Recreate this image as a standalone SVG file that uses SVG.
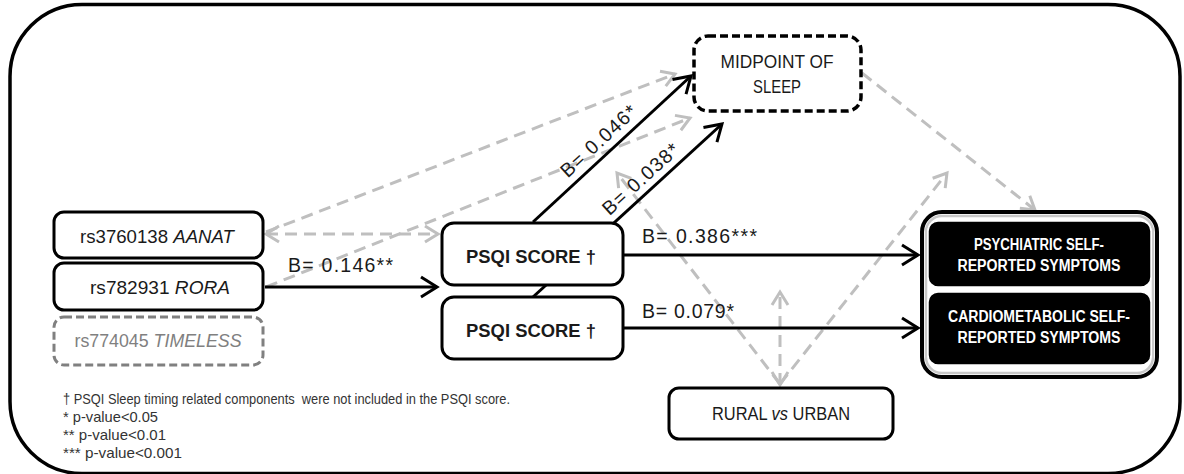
<svg xmlns="http://www.w3.org/2000/svg" width="1184" height="474" viewBox="0 0 1184 474">
<defs>
<style>
text{font-family:"Liberation Sans",Arial,sans-serif;fill:#1a1a1a}
.box{fill:#fff;stroke:#000;stroke-width:3}
.blk{stroke:#000;stroke-width:3;fill:none}
.gry{stroke:#bfbfbf;stroke-width:3;fill:none;stroke-dasharray:12 7}
.lbl{font-size:19.5px}
.node{font-size:18.5px}
.out{font-size:16px;font-weight:bold;fill:#fff}
.foot{font-size:15px;fill:#333}
</style>
<marker id="ab" markerUnits="userSpaceOnUse" markerWidth="40" markerHeight="40" viewBox="-20 -20 40 40" refX="0" refY="0" orient="auto-start-reverse">
<path d="M-16,-10 L0,0 L-16,10" fill="none" stroke="#000" stroke-width="3"/>
</marker>
<marker id="ag" markerUnits="userSpaceOnUse" markerWidth="40" markerHeight="40" viewBox="-20 -20 40 40" refX="0" refY="0" orient="auto-start-reverse">
<path d="M-13,-8 L0,0 L-13,8" fill="none" stroke="#bfbfbf" stroke-width="3"/>
</marker>
</defs>
<rect width="1184" height="474" fill="#fff"/>
<rect id="frame" x="10" y="4.5" width="1170" height="469" rx="72" fill="#fff" stroke="#000" stroke-width="3.5"/>

<g id="connectors">
<line class="gry" x1="266" y1="232" x2="675" y2="74" marker-end="url(#ag)"/>
<line class="gry" x1="266" y1="234" x2="438" y2="234" marker-start="url(#ag)" marker-end="url(#ag)"/>
<line class="gry" x1="266" y1="287" x2="690" y2="118" marker-end="url(#ag)"/>
<line class="gry" x1="862" y1="73" x2="1035" y2="210" marker-end="url(#ag)"/>
<line class="gry" x1="780" y1="384" x2="617" y2="173" marker-end="url(#ag)"/>
<line class="gry" x1="780" y1="384" x2="947" y2="173" marker-end="url(#ag)"/>
<line class="gry" x1="780" y1="385" x2="780" y2="292" marker-start="url(#ag)" marker-end="url(#ag)"/>
<line class="blk" x1="265" y1="287" x2="437" y2="287" marker-end="url(#ab)"/>
<line class="blk" x1="533" y1="222" x2="691" y2="76" marker-end="url(#ab)"/>
<line class="blk" x1="533" y1="297" x2="722" y2="124" marker-end="url(#ab)"/>
<line class="blk" x1="623" y1="255" x2="918" y2="255" marker-end="url(#ab)"/>
<line class="blk" x1="623" y1="328" x2="918" y2="328" marker-end="url(#ab)"/>
<text class="lbl" x="288" y="272" textLength="105">B= 0.146**</text>
<text class="lbl" x="642" y="243" textLength="115">B= 0.386***</text>
<text class="lbl" x="642" y="318" textLength="92">B= 0.079*</text>
<text class="lbl" text-anchor="middle" textLength="96" transform="translate(603,146) rotate(-42.7)">B= 0.046*</text>
<text class="lbl" text-anchor="middle" textLength="96" transform="translate(645,184) rotate(-42.3)">B= 0.038*</text>
</g>

<g id="aanat">
<rect class="box" x="54" y="212" width="209" height="46" rx="10"/>
<text class="node" x="157" y="243" text-anchor="middle" textLength="154" lengthAdjust="spacingAndGlyphs">rs3760138 <tspan font-style="italic">AANAT</tspan></text>
</g>
<g id="rora">
<rect class="box" x="54" y="263" width="209" height="47" rx="10"/>
<text class="node" x="160" y="294" text-anchor="middle" textLength="140" lengthAdjust="spacingAndGlyphs">rs782931 <tspan font-style="italic">RORA</tspan></text>
</g>
<g id="timeless">
<rect x="54" y="317" width="209" height="48" rx="10" fill="#fff" stroke="#808080" stroke-width="3" stroke-dasharray="8 4"/>
<text class="node" x="158" y="347" text-anchor="middle" textLength="167" lengthAdjust="spacingAndGlyphs" style="fill:#808080">rs774045 <tspan font-style="italic">TIMELESS</tspan></text>
</g>
<g id="psqi1">
<rect class="box" x="442" y="223" width="181" height="62" rx="12"/>
<text class="node" x="531" y="263" text-anchor="middle" font-weight="bold" font-size="19.5" textLength="130" lengthAdjust="spacingAndGlyphs">PSQI SCORE †</text>
</g>
<g id="psqi2">
<rect class="box" x="442" y="297" width="181" height="62" rx="12"/>
<text class="node" x="531" y="337" text-anchor="middle" font-weight="bold" font-size="19.5" textLength="130" lengthAdjust="spacingAndGlyphs">PSQI SCORE †</text>
</g>
<g id="midpoint">
<rect x="694" y="36" width="167" height="75" rx="14" fill="#fff" stroke="#000" stroke-width="3.5" stroke-dasharray="8 4"/>
<text x="777" y="68" text-anchor="middle" font-size="18" textLength="113" lengthAdjust="spacingAndGlyphs">MIDPOINT OF</text>
<text x="777" y="93" text-anchor="middle" font-size="18" textLength="48" lengthAdjust="spacingAndGlyphs">SLEEP</text>
</g>
<g id="rural">
<rect class="box" x="669" y="388" width="224" height="51" rx="10"/>
<text x="781" y="420" text-anchor="middle" font-size="17.5" textLength="138" lengthAdjust="spacingAndGlyphs">RURAL <tspan font-style="italic">vs</tspan> URBAN</text>
</g>
<g id="outcomes">
<rect x="922" y="212" width="235" height="165" rx="20" fill="#fff" stroke="#000" stroke-width="4"/>
<rect x="926" y="216" width="227" height="157" rx="16" fill="none" stroke="#c8c8c8" stroke-width="2.5"/>
<g id="psychiatric">
<rect x="928" y="221" width="223" height="66" rx="10" fill="#000" stroke="#fff" stroke-width="1.5"/>
<text class="out" x="1039" y="250" text-anchor="middle" textLength="130" lengthAdjust="spacingAndGlyphs">PSYCHIATRIC SELF-</text>
<text class="out" x="1039" y="271" text-anchor="middle" textLength="163" lengthAdjust="spacingAndGlyphs">REPORTED SYMPTOMS</text>
</g>
<g id="cardiometabolic">
<rect x="928" y="292" width="223" height="73" rx="10" fill="#000" stroke="#fff" stroke-width="1.5"/>
<text class="out" x="1039" y="322" text-anchor="middle" textLength="182" lengthAdjust="spacingAndGlyphs">CARDIOMETABOLIC SELF-</text>
<text class="out" x="1039" y="343" text-anchor="middle" textLength="163" lengthAdjust="spacingAndGlyphs">REPORTED SYMPTOMS</text>
</g>
</g>

<g id="footnotes">
<text class="foot" x="63" y="404" xml:space="preserve" textLength="447" lengthAdjust="spacingAndGlyphs">† PSQI Sleep timing related components  were not included in the PSQI score.</text>
<text class="foot" x="63" y="422" textLength="95" lengthAdjust="spacingAndGlyphs">* p-value&lt;0.05</text>
<text class="foot" x="63" y="440" textLength="103" lengthAdjust="spacingAndGlyphs">** p-value&lt;0.01</text>
<text class="foot" x="63" y="458" textLength="119" lengthAdjust="spacingAndGlyphs">*** p-value&lt;0.001</text>
</g>
</svg>
